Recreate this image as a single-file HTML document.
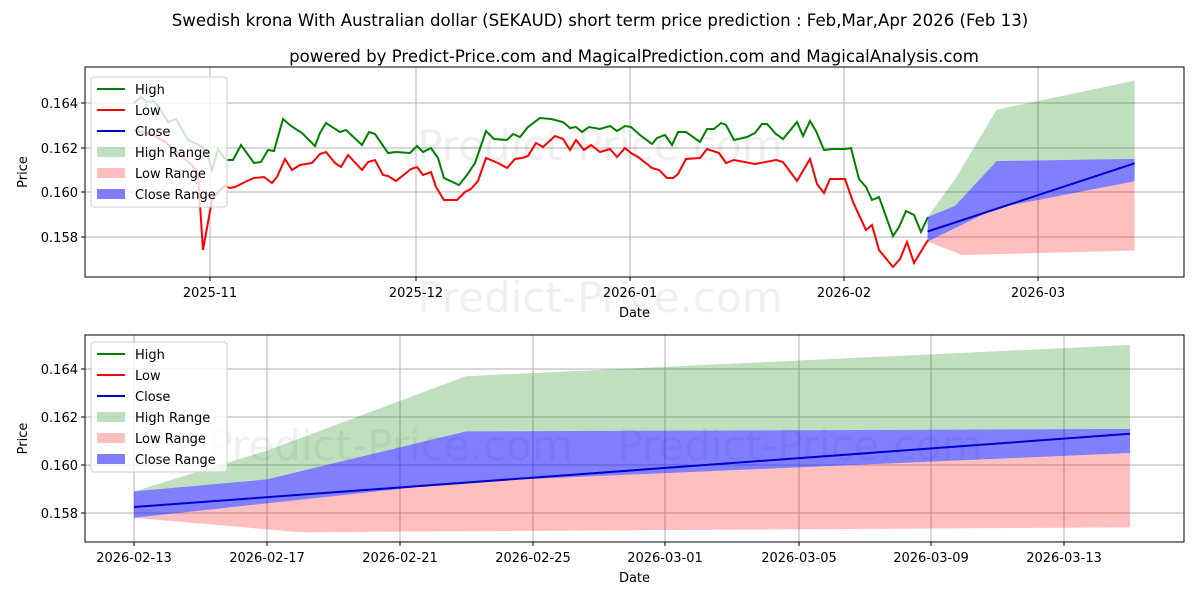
<!DOCTYPE html>
<html><head><meta charset="utf-8"><style>
body{margin:0;background:#fff;}
svg{display:block;font-family:"DejaVu Sans","Liberation Sans",sans-serif;}
</style></head><body>
<svg id="s" width="1200" height="600" viewBox="0 0 1200 600" xmlns="http://www.w3.org/2000/svg">
<rect width="1200" height="600" fill="#fff"/>
<text x="600" y="26" font-size="16.6" text-anchor="middle">Swedish krona With Australian dollar (SEKAUD) short term price prediction : Feb,Mar,Apr 2026 (Feb 13)</text>
<text x="634" y="62" font-size="16.6" text-anchor="middle">powered by Predict-Price.com and MagicalPrediction.com and MagicalAnalysis.com</text>
<g id="top"></g><g id="bot"></g>
</svg>
<script>
const NS="http://www.w3.org/2000/svg";
function el(p,t,a,txt){const e=document.createElementNS(NS,t);for(const k in a)e.setAttribute(k,a[k]);if(txt!=null)e.textContent=txt;p.appendChild(e);return e;}
function pts(a){return a.map(p=>p[0].toFixed(1)+","+p[1].toFixed(1)).join(" ");}
function axes(g,L,T,R,B,yt,xt,wm){
  el(g,"defs",{}).innerHTML=`<clipPath id="c${T}"><rect x="${L}" y="${T}" width="${R-L}" height="${B-T}"/></clipPath>`;
  for(const [y,l] of yt){el(g,"line",{x1:L,x2:R,y1:y,y2:y,stroke:"#b0b0b0","stroke-width":1});
    el(g,"line",{x1:L-4,x2:L,y1:y,y2:y,stroke:"#000"});
    el(g,"text",{x:L-7,y:y+5,"font-size":13,"text-anchor":"end"},l);}
  for(const [x,l] of xt){el(g,"line",{x1:x,x2:x,y1:T,y2:B,stroke:"#b0b0b0","stroke-width":1});
    el(g,"line",{x1:x,x2:x,y1:B,y2:B+4,stroke:"#000"});
    el(g,"text",{x:x,y:B+20,"font-size":13,"text-anchor":"middle"},l);}
  el(g,"text",{x:(L+R)/2,y:B+40,"font-size":13,"text-anchor":"middle"},"Date");
  el(g,"text",{x:27,y:(T+B)/2,"font-size":13,"text-anchor":"middle",transform:`rotate(-90 27 ${(T+B)/2})`},"Price");
  for(const w of wm) el(g,"text",{x:w[0],y:w[1],"font-size":42,fill:"#000","fill-opacity":0.06,"text-anchor":"middle"},"Predict-Price.com");
  return el(g,"g",{"clip-path":`url(#c${T})`});
}
function frame(g,L,T,R,B){el(g,"rect",{x:L,y:T,width:R-L,height:B-T,fill:"none",stroke:"#000","stroke-width":1});}
function legend(g,x,y){
  el(g,"rect",{x:x,y:y,width:136,height:130,rx:3,fill:"#fff","fill-opacity":0.8,stroke:"#ccc"});
  const it=[["High","l","#008000"],["Low","l","#ff0000"],["Close","l","#0000cc"],["High Range","f","rgba(0,128,0,0.25)"],["Low Range","f","rgba(255,0,0,0.25)"],["Close Range","f","rgba(0,0,255,0.5)"]];
  it.forEach((a,i)=>{const yy=y+12+i*21;
    if(a[1]=="l")el(g,"line",{x1:x+6,x2:x+34,y1:yy,y2:yy,stroke:a[2],"stroke-width":2});
    else el(g,"rect",{x:x+6,y:yy-5,width:28,height:10,fill:a[2]});
    el(g,"text",{x:x+44,y:yy+5,"font-size":13},a[0]);});
}
const hiU=[[0,.1589],[4,.1606],[10,.1637],[30,.1650]];
const clU=[[0,.1589],[4,.1594],[10,.1614],[30,.1615]];
const clL=[[0,.1578],[4,.1584],[10,.1593],[30,.1605]];
const loL=[[0,.1578],[5,.1572],[30,.1574]];
const cls=[[0,.15825],[30,.1613]];
function band(c,up,lo,fx,fy,fill){const a=up.map(p=>[fx(p[0]),fy(p[1])]).concat(lo.slice().reverse().map(p=>[fx(p[0]),fy(p[1])]));el(c,"polygon",{points:pts(a),fill:fill});}
function fc(c,fx,fy){
  band(c,hiU,clU,fx,fy,"rgba(0,128,0,0.25)");
  band(c,clL,loL,fx,fy,"rgba(255,0,0,0.25)");
  band(c,clU,clL,fx,fy,"rgba(0,0,255,0.5)");
  el(c,"polyline",{points:pts(cls.map(p=>[fx(p[0]),fy(p[1])])),fill:"none",stroke:"#0000cc","stroke-width":2});
}
{const g=document.getElementById("top");const L=85,T=67,R=1184,B=277;
 const c=axes(g,L,T,R,B,[[103,"0.164"],[148,"0.162"],[192,"0.160"],[237,"0.158"]],[[210,"2025-11"],[416,"2025-12"],[630,"2026-01"],[844,"2026-02"],[1038,"2026-03"]],[[600,160],[600,312]]);
 const fx=t=>210+6.9*(104+t), fy=v=>67+(0.16561-v)*22350;
 fc(c,fx,fy);
 const hi=[[134,103],[141,97],[147,102],[154,101],[159,107],[168,122],[176,119],[188,140],[199,145],[206,150],[212,170],[218,149],[226,160],[233,160],[241,145],[254,163],[261,162],[268,150],[274,151],[283,119],[291,126],[302,133],[315,146],[320,133],[326,123],[340,132],[346,130],[362,145],[369,132],[375,134],[388,153],[396,152],[410,153],[417,146],[423,152],[431,148],[438,158],[444,178],[459,185],[467,175],[475,163],[486,131],[494,139],[507,140],[513,134],[520,137],[528,127],[540,118],[551,119],[563,122],[570,128],[576,127],[582,132],[589,127],[600,129],[610,126],[617,131],[625,126],[631,127],[640,135],[652,144],[657,138],[665,135],[672,145],[678,132],[686,132],[700,142],[707,129],[714,129],[721,123],[726,125],[734,140],[747,137],[755,133],[762,124],[767,124],[776,134],[783,139],[797,122],[803,136],[810,121],[816,131],[824,150],[833,149],[845,149],[851,148],[859,179],[866,187],[872,200],[879,197],[893,236],[899,227],[906,211],[914,215],[921,232],[928,217]];
 const lo=[[134,130],[153,135],[165,142],[180,155],[192,165],[198,175],[203,250],[212,200],[218,192],[225,186],[230,188],[235,187],[245,182],[254,178],[264,177],[272,183],[277,177],[285,159],[292,170],[300,165],[312,163],[320,154],[326,152],[335,163],[341,167],[348,155],[362,170],[368,162],[375,160],[383,175],[388,176],[396,181],[411,169],[417,167],[423,175],[431,172],[436,187],[444,200],[457,200],[465,192],[471,189],[478,181],[486,158],[498,163],[507,168],[515,159],[522,158],[528,156],[536,143],[543,147],[555,136],[563,139],[570,150],[576,140],[584,150],[591,145],[600,152],[610,149],[617,157],[625,148],[631,153],[638,157],[652,168],[659,170],[667,178],[673,178],[678,174],[686,159],[700,158],[707,149],[719,153],[726,163],[734,160],[755,164],[776,160],[783,162],[797,181],[810,159],[817,184],[824,193],[830,179],[845,179],[853,202],[866,230],[872,225],[879,250],[893,267],[900,259],[907,242],[914,263],[928,240]];
 el(c,"polyline",{points:pts(hi),fill:"none",stroke:"#008000","stroke-width":2});
 el(c,"polyline",{points:pts(lo),fill:"none",stroke:"#ff0000","stroke-width":2});
 frame(g,L,T,R,B);legend(g,91,77);}
{const g=document.getElementById("bot");const L=85,T=335,R=1184,B=542;
 const c=axes(g,L,T,R,B,[[369,"0.164"],[417,"0.162"],[465,"0.160"],[513,"0.158"]],[[134,"2026-02-13"],[267,"2026-02-17"],[400,"2026-02-21"],[533,"2026-02-25"],[665,"2026-03-01"],[799,"2026-03-05"],[931,"2026-03-09"],[1064,"2026-03-13"]],[[390,460],[800,460]]);
 const fx=t=>134+33.2*t, fy=v=>335+(0.165417-v)*24000;
 fc(c,fx,fy);
 frame(g,L,T,R,B);legend(g,91,342);}
</script>
</body></html>
